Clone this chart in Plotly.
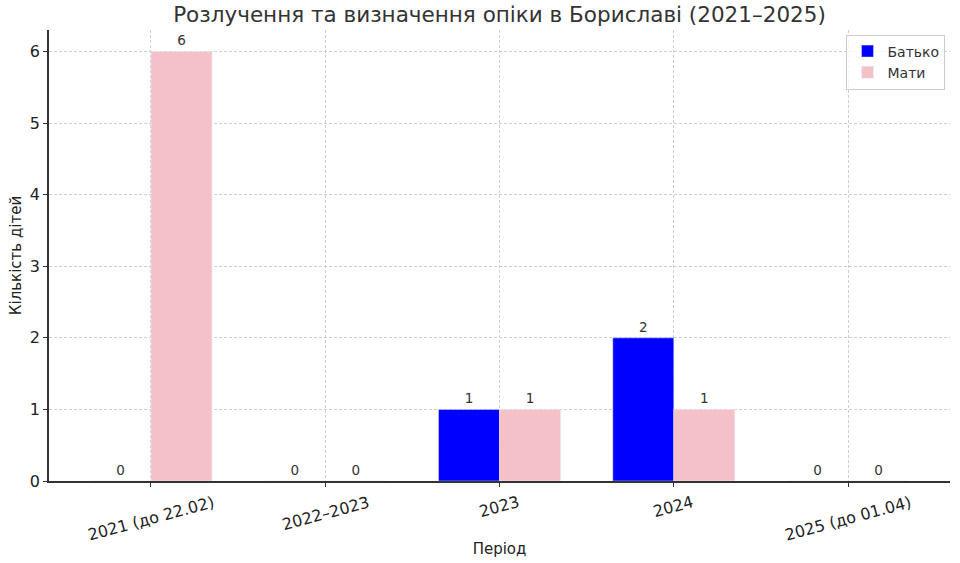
import plotly.graph_objects as go

categories = ["2021 (до 22.02)", "2022–2023", "2023", "2024", "2025 (до 01.04)"]
father = [0, 0, 1, 2, 0]
mother = [6, 0, 1, 1, 0]
title = "Розлучення та визначення опіки в Бориславі (2021–2025)"

FONT = "DejaVu Sans"
x_idx = list(range(len(categories)))

fig = go.Figure()
fig.add_trace(go.Bar(x=x_idx, y=father, name="Батько", marker_color="#0000ff",
                     text=[str(v) for v in father], textposition="outside",
                     textfont=dict(size=13.5, color="#333333", family=FONT),
                     cliponaxis=False, offset=-0.35, width=0.35))
fig.add_trace(go.Bar(x=x_idx, y=mother, name="Мати", marker_color="#f5c1c9",
                     text=[str(v) for v in mother], textposition="outside",
                     textfont=dict(size=13.5, color="#333333", family=FONT),
                     cliponaxis=False, offset=0.0, width=0.35))

annotations = []
for i, c in enumerate(categories):
    annotations.append(dict(x=i, y=-0.02, xref="x", yref="paper", text=c,
                            showarrow=False, textangle=-15, xanchor="center",
                            yanchor="top", font=dict(size=16, color="#222222", family=FONT)))

fig.update_layout(
    width=960, height=563,
    margin=dict(l=49, r=10, t=30, b=82),
    paper_bgcolor="white", plot_bgcolor="white",
    font=dict(family=FONT, color="#222222"),
    title=dict(text=title, x=0.5, xref="paper", xanchor="center", y=0.975, yanchor="middle",
               font=dict(size=21.5, color="#333333", family=FONT)),
    showlegend=True,
    legend=dict(x=0.995, y=0.99, xanchor="right", yanchor="top",
                bordercolor="#cccccc", borderwidth=1, bgcolor="rgba(255,255,255,0.8)",
                font=dict(size=14, color="#333333", family=FONT)),
    annotations=annotations,
    bargap=0.3, bargroupgap=0,
)
fig.update_xaxes(range=[-0.585, 4.585], tickmode="array", tickvals=x_idx,
                 ticktext=["" for _ in categories], showline=True, linecolor="#333333",
                 linewidth=1.5, ticks="outside", ticklen=4, tickcolor="#333333",
                 showgrid=True, gridcolor="#cfcfcf", griddash="3px,2px", gridwidth=1,
                 zeroline=False,
                 title=dict(text="Період", font=dict(size=15, color="#222222", family=FONT), standoff=55))
fig.update_yaxes(range=[0, 6.3], tickmode="array", tickvals=[0, 1, 2, 3, 4, 5, 6],
                 showline=True, linecolor="#333333", linewidth=1.5, ticks="outside",
                 ticklen=4, tickcolor="#333333", tickfont=dict(size=16, color="#222222"),
                 showgrid=True, gridcolor="#cfcfcf", griddash="3px,2px", gridwidth=1,
                 zeroline=False,
                 title=dict(text="Кількість дітей", font=dict(size=15, color="#222222", family=FONT), standoff=5))

fig.write_html("out.html")
